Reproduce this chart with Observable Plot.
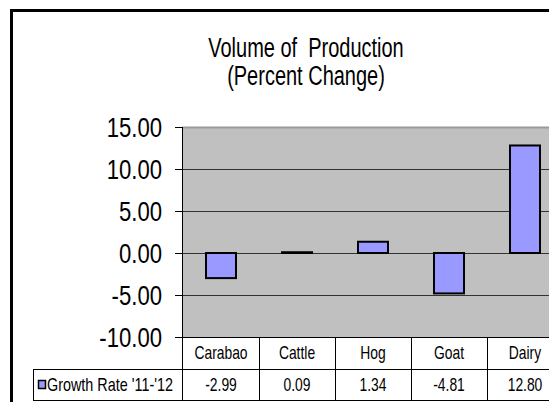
<!DOCTYPE html>
<html>
<head>
<meta charset="utf-8">
<script src="https://cdn.jsdelivr.net/npm/d3@7"></script>
<script src="https://cdn.jsdelivr.net/npm/@observablehq/plot@0.6"></script>
<style>
  html, body { margin: 0; padding: 0; background: #fff; overflow: hidden; width: 549px; height: 402px; }
  #wrap { position: relative; width: 549px; height: 402px; overflow: hidden; background: #fff; }
  #frame { position: absolute; left: 10px; top: 9px; width: 700px; height: 600px; border-left: 3px solid #000; border-top: 3px solid #000; box-sizing: border-box; }
  #chart { position: absolute; left: 0; top: 0; width: 580px; height: 402px; }
  #chart svg { max-width: none !important; }
  #title { position: absolute; left: 0; top: 34px; width: 612px; text-align: center; font-family: 'Liberation Sans', Arial, sans-serif; font-size: 27px; line-height: 28px; color: #000; transform: scaleX(0.74); transform-origin: 306px 0; }
</style>
</head>
<body>
<div id="wrap">
  <div id="frame"></div>
  <div id="chart"></div>
  <div id="title">Volume of&nbsp; Production<br>(Percent Change)</div>
</div>
<script>
// ---- data ----
const categories = ["Carabao", "Cattle", "Hog", "Goat", "Dairy"];
const growthRate = [-2.99, 0.09, 1.34, -4.81, 12.80];
const seriesName = "Growth Rate '11-'12";
const yTicks = [-10, -5, 0, 5, 10, 15];

const FONT = "'Liberation Sans', Arial, sans-serif";
const data = categories.map((c, i) => ({category: c, value: growthRate[i]}));
const yMin = d3.min(yTicks), yMax = d3.max(yTicks);

// y tick labels and the data table under the plot, positioned from the plot's scales
function tableMark(index, scales, values, dims) {
  const x = scales.x, y = scales.y;
  const bw = x.bandwidth ? x.bandwidth() : (dims.width - dims.marginLeft - dims.marginRight) / categories.length;
  const left = dims.marginLeft, right = dims.width - dims.marginRight;
  const top = y(yMin);
  const r1 = top + 32, r2 = r1 + 31;
  const legendLeft = 33;
  const g = d3.create("svg:g").attr("font-family", FONT).attr("fill", "#000");
  // y tick labels (condensed)
  yTicks.forEach((t) => {
    g.append("text")
      .attr("transform", `translate(${left - 20},${y(t)}) scale(0.79,1)`)
      .attr("text-anchor", "end").attr("dy", "0.36em").attr("font-size", 28)
      .text(t.toFixed(2));
  });
  const lines = g.append("g").attr("stroke", "#000").attr("stroke-width", 1).attr("shape-rendering", "crispEdges");
  // axis line
  lines.append("line").attr("x1", left).attr("x2", left).attr("y1", y(yMax)).attr("y2", r2);
  // plot bottom / table rows
  lines.append("line").attr("x1", left).attr("x2", right).attr("y1", top).attr("y2", top);
  lines.append("line").attr("x1", legendLeft).attr("x2", right).attr("y1", r1).attr("y2", r1);
  lines.append("line").attr("x1", legendLeft).attr("x2", right).attr("y1", r2).attr("y2", r2);
  lines.append("line").attr("x1", legendLeft).attr("x2", legendLeft).attr("y1", r1).attr("y2", r2);
  categories.forEach((c) => {
    const x1 = x(c) + bw;
    lines.append("line").attr("x1", x1).attr("x2", x1).attr("y1", top).attr("y2", r2);
  });
  const tg = g.append("g").attr("font-size", 18);
  categories.forEach((c, i) => {
    const cx = x(c) + bw / 2;
    tg.append("text").attr("transform", `translate(${cx},${(top + r1) / 2}) scale(0.77,1)`)
      .attr("text-anchor", "middle").attr("dy", "0.36em").text(c);
    tg.append("text").attr("transform", `translate(${cx},${(r1 + r2) / 2}) scale(0.77,1)`)
      .attr("text-anchor", "middle").attr("dy", "0.36em").text(growthRate[i].toFixed(2));
  });
  // legend key
  g.append("rect").attr("x", legendLeft + 5.5).attr("y", r1 + 11.5).attr("width", 7).attr("height", 8)
    .attr("fill", "#9999ff").attr("stroke", "#000").attr("stroke-width", 1.5);
  tg.append("text").attr("transform", `translate(${legendLeft + 14},${(r1 + r2) / 2}) scale(0.8,1)`)
    .attr("text-anchor", "start").attr("dy", "0.36em").text(seriesName);
  return g.node();
}

const chart = Plot.plot({
  width: 580,
  height: 402,
  marginLeft: 182,
  marginRight: 16,
  marginTop: 127,
  marginBottom: 65,
  style: {fontFamily: FONT, background: "transparent", overflow: "visible", maxWidth: "none"},
  x: {domain: categories, padding: 0, axis: null},
  y: {domain: [yMin, yMax], axis: null},
  marks: [
    Plot.frame({fill: "#c0c0c0", stroke: null}),
    Plot.ruleY(yTicks.filter(t => t > yMin && t < yMax), {stroke: "#333", strokeWidth: 1.2}),
    Plot.ruleY([yMax], {stroke: "#9a9a9a", strokeWidth: 2}),
    Plot.barY(data, {x: "category", y: "value", fill: "#9999ff", stroke: "#000", strokeWidth: 2, insetLeft: 23, insetRight: 23}),
    Plot.axisY({ticks: yTicks, tickFormat: () => "", label: null, tickSize: 7, stroke: "#000"}),
    tableMark
  ]
});
document.getElementById("chart").appendChild(chart);
</script>
</body>
</html>
